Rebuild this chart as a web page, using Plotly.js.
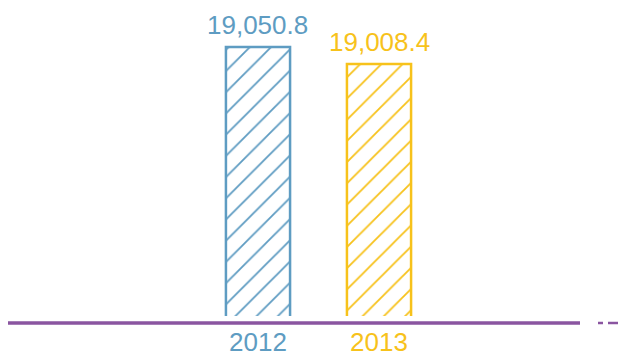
<!DOCTYPE html>
<html>
<head>
<meta charset="utf-8">
<script src="https://cdn.plot.ly/plotly-3.0.1.min.js"></script>
<style>html,body{margin:0;padding:0;background:#fff}#chart{width:618px;height:356px}</style>
</head>
<body>
<div id="chart"></div>
<script>
const categories = ['2012', '2013'];
const values = [19050.8, 19008.4];
const colors = ['#5e9cc2', '#f7c21b'];

const fmt = v => v.toLocaleString('en-US', {minimumFractionDigits: 1, maximumFractionDigits: 1});

const traces = categories.map((c, i) => ({
  type: 'bar',
  x: [c],
  y: [values[i]],
  width: 0.53,
  marker: {
    color: '#ffffff',
    line: {color: colors[i], width: 2.5},
    pattern: {shape: '/', fgcolor: colors[i], bgcolor: '#ffffff', size: 15, solidity: 0.12}
  },
  hoverinfo: 'skip',
  showlegend: false
}));

const annotations = categories.map((c, i) => ({
  x: i, y: values[i], xref: 'x', yref: 'y',
  text: fmt(values[i]), showarrow: false,
  xanchor: 'center', yanchor: 'bottom', yshift: 5,
  font: {family: 'Liberation Sans, Arial, sans-serif', size: 26, color: colors[i]}
}));

const layout = {
  width: 618, height: 356,
  margin: {l: 0, r: 0, t: 0, b: 40},
  paper_bgcolor: '#ffffff', plot_bgcolor: '#ffffff',
  bargap: 0,
  xaxis: {
    type: 'category',
    range: [-2.132, 2.975],
    tickvals: categories,
    ticktext: categories.map((c, i) => `<span style="color:${colors[i]}">${c}</span>`),
    tickfont: {family: 'Liberation Sans, Arial, sans-serif', size: 26},
    ticklabelstandoff: 8,
    showgrid: false, zeroline: false, showline: false, ticks: '',
    fixedrange: true
  },
  yaxis: {range: [18380, 19168], visible: false, fixedrange: true},
  annotations: annotations,
  shapes: [
    {type: 'line', xref: 'paper', yref: 'paper', x0: 8/618, x1: 580/618, y0: -7/316, y1: -7/316,
     line: {color: '#8a55a0', width: 3.5}},
    {type: 'line', xref: 'paper', yref: 'paper', x0: 598/618, x1: 603/618, y0: -7/316, y1: -7/316,
     line: {color: '#8a55a0', width: 2.5}},
    {type: 'line', xref: 'paper', yref: 'paper', x0: 608/618, x1: 618/618, y0: -7/316, y1: -7/316,
     line: {color: '#8a55a0', width: 2.5}}
  ]
};

Plotly.newPlot('chart', traces, layout, {displayModeBar: false, staticPlot: true});
</script>
</body>
</html>
